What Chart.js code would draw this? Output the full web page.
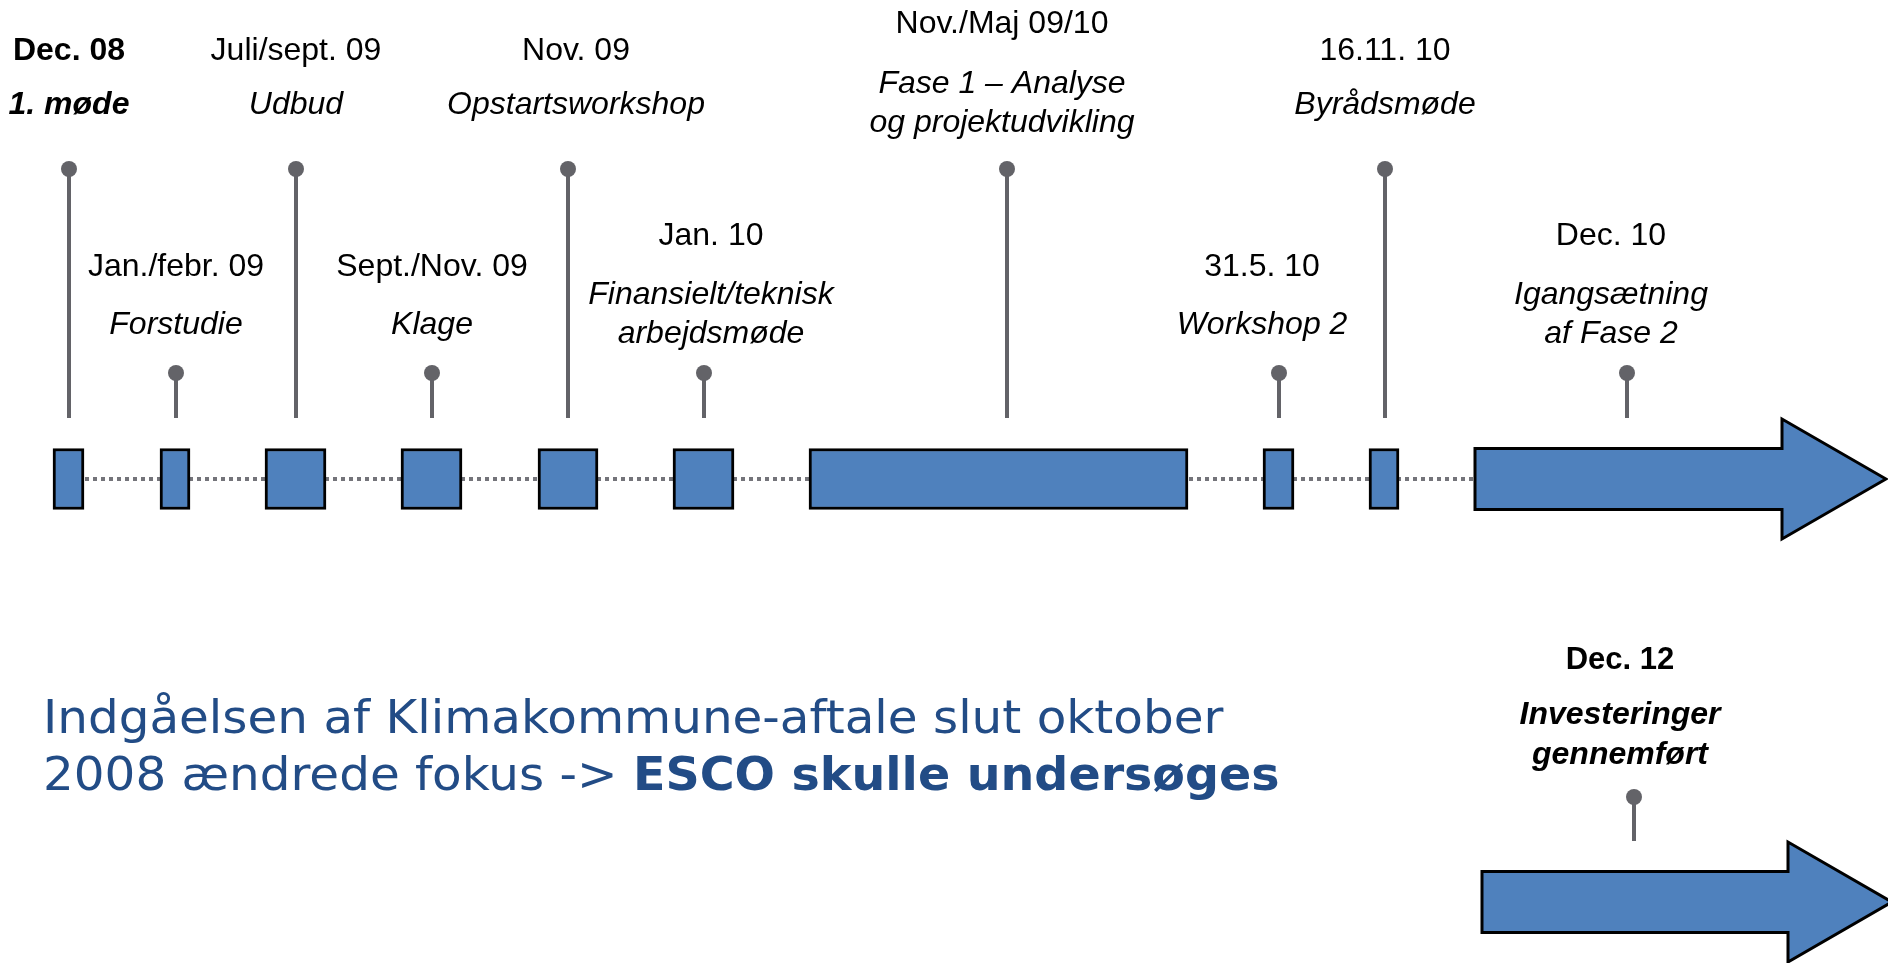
<!DOCTYPE html>
<html>
<head>
<meta charset="utf-8">
<script src="https://cdn.jsdelivr.net/npm/chart.js@4.4.0/dist/chart.umd.min.js"></script>
<style>
  html, body { margin: 0; padding: 0; background: #fff; overflow: hidden; }
  #wrap { width: 1888px; height: 963px; position: relative; }
</style>
</head>
<body>
<div id="wrap"><canvas id="timeline"></canvas></div>
<script>
// --- data: milestones on the main track (x in timeline units) ---
const dates = ['Dec. 08', 'Jan./febr. 09', 'Juli/sept. 09', 'Sept./Nov. 09', 'Nov. 09',
               'Jan. 10', 'Nov./Maj 09/10', '31.5. 10', '16.11. 10', 'Dec. 10'];
const captions = [['1. møde'], ['Forstudie'], ['Udbud'], ['Klage'], ['Opstartsworkshop'],
                  ['Finansielt/teknisk', 'arbejdsmøde'], ['Fase 1 – Analyse', 'og projektudvikling'],
                  ['Workshop 2'], ['Byrådsmøde'], ['Igangsætning', 'af Fase 2']];
const phaseStart = [53, 160, 265, 401, 538, 673, 809, 1263, 1369, 1475];
const phaseEnd   = [84, 190, 326, 462, 598, 734, 1188, 1294, 1399, 1782];
const pinAt      = [69, 176, 296, 432, 568, 704, 1007, 1279, 1385, 1627];
const pinLevel   = ['high', 'low', 'high', 'low', 'high', 'low', 'high', 'low', 'high', 'low'];
const boldDates  = ['Dec. 08'];

// second track
const laterDates    = ['Dec. 12'];
const laterCaptions = [['Investeringer', 'gennemført']];
const laterStart    = [1482];
const laterEnd      = [1788];
const laterPin      = [1634];

// --- layout ---
const TRACK_Y = [479, 902];
const BOX_H = 61;
const HEAD_LEN = 104, HEAD_HALF = 60;
const STEM = { high: 310, low: 106, later: 105 };
const STEM_GAP = 61;               // stem stops this far above track centre
const labelShift = [0, 0, 0, 0, 8, 7, -5, -17, 0, -16];
const laterShift = [-14];
// text offsets above the pin dot: [date, caption lines...]
const TEXT_OFF = {
  high1: [-118, -64], high2: [-145, -85, -46],
  low1: [-106, -48],  low2: [-137, -78, -39],
  later2: [-137, -82, -42]
};
const BLUE = '#4F81BD', GREY = '#636368', DOT = '#74747a', NAVY = '#224C86';

const boxes = phaseStart.map((s, i) => ({ x: [s, phaseEnd[i]], y: TRACK_Y[0] }))
  .concat(laterStart.map((s, i) => ({ x: [s, laterEnd[i]], y: TRACK_Y[1] })));
const arrowIdx = [phaseStart.length - 1, boxes.length - 1];

const pins = pinAt.map((x, i) => ({ x, y: TRACK_Y[0] - STEM[pinLevel[i]] }))
  .concat(laterPin.map(x => ({ x, y: TRACK_Y[1] - STEM.later })));

const timelinePlugin = {
  id: 'timeline',
  beforeDatasetsDraw(chart) {
    const ctx = chart.ctx, xs = chart.scales.x, ys = chart.scales.y;
    ctx.save();
    ctx.strokeStyle = GREY;
    ctx.lineWidth = 4;
    pins.forEach((p, i) => {
      const track = i < pinAt.length ? TRACK_Y[0] : TRACK_Y[1];
      const px = Math.round(xs.getPixelForValue(p.x));
      ctx.beginPath();
      ctx.moveTo(px, ys.getPixelForValue(p.y));
      ctx.lineTo(px, ys.getPixelForValue(track) - STEM_GAP);
      ctx.stroke();
    });
    ctx.restore();
  },
  afterDatasetsDraw(chart) {
    const ctx = chart.ctx, xs = chart.scales.x, ys = chart.scales.y;
    const bars = chart.getDatasetMeta(1).data;
    ctx.save();
    // arrow heads
    arrowIdx.forEach(i => {
      const { x, y, base, height } = bars[i].getProps(['x', 'y', 'base', 'height'], true);
      const h = height / 2;
      ctx.beginPath();
      ctx.moveTo(base, y - h);
      ctx.lineTo(x, y - h);
      ctx.lineTo(x, y - HEAD_HALF);
      ctx.lineTo(x + HEAD_LEN, y);
      ctx.lineTo(x, y + HEAD_HALF);
      ctx.lineTo(x, y + h);
      ctx.lineTo(base, y + h);
      ctx.closePath();
      ctx.fillStyle = BLUE;
      ctx.fill();
      ctx.lineWidth = 3;
      ctx.strokeStyle = '#000';
      ctx.lineJoin = 'miter';
      ctx.stroke();
    });

    // labels
    ctx.fillStyle = '#000';
    ctx.textAlign = 'center';
    ctx.textBaseline = 'middle';
    const drawLabel = (date, lines, px, dotY, key, bold, size) => {
      const off = TEXT_OFF[key];
      ctx.font = (bold ? 'bold ' : '') + size + 'px "Liberation Sans", Arial, sans-serif';
      ctx.fillText(date, px, dotY + off[0]);
      ctx.font = 'italic ' + (bold ? 'bold ' : '') + '32px "Liberation Sans", Arial, sans-serif';
      lines.forEach((t, k) => ctx.fillText(t, px, dotY + off[k + 1]));
    };
    dates.forEach((d, i) => {
      const px = xs.getPixelForValue(pinAt[i]) + labelShift[i];
      const dotY = ys.getPixelForValue(pins[i].y);
      drawLabel(d, captions[i], px, dotY, pinLevel[i] + captions[i].length,
                boldDates.includes(d), 32);
    });
    laterDates.forEach((d, i) => {
      const p = pins[pinAt.length + i];
      drawLabel(d, laterCaptions[i], xs.getPixelForValue(p.x) + laterShift[i],
                ys.getPixelForValue(p.y), 'later2', true, 31);
    });

    // slide note
    ctx.textAlign = 'left';
    ctx.textBaseline = 'alphabetic';
    ctx.fillStyle = NAVY;
    ctx.translate(43, 0);
    ctx.scale(1.03, 1);
    ctx.font = '47px "DejaVu Sans", Verdana, sans-serif';
    ctx.fillText('Indgåelsen af Klimakommune-aftale slut oktober', 0, 733);
    const lead = '2008 ændrede fokus -> ';
    ctx.fillText(lead, 0, 790);
    const w = ctx.measureText(lead).width;
    ctx.translate(w, 0);
    ctx.scale(0.982, 1);
    ctx.font = 'bold 47px "DejaVu Sans", Verdana, sans-serif';
    ctx.fillText('ESCO skulle undersøges', 0, 790);
    ctx.restore();
  }
};

new Chart(document.getElementById('timeline'), {
  data: {
    datasets: [
      {
        type: 'line',
        data: [{ x: phaseStart[0], y: TRACK_Y[0] }, { x: phaseStart[phaseStart.length - 1], y: TRACK_Y[0] }],
        borderColor: DOT,
        borderWidth: 4,
        borderDash: [4, 4],
        pointRadius: 0,
        order: 3
      },
      {
        type: 'bar',
        indexAxis: 'y',
        data: boxes,
        grouped: false,
        barThickness: BOX_H,
        backgroundColor: BLUE,
        borderColor: '#000',
        borderWidth: 3,
        borderSkipped: false,
        order: 2
      },
      {
        type: 'scatter',
        data: pins,
        pointRadius: 8,
        pointBackgroundColor: GREY,
        pointBorderWidth: 0,
        order: 1
      }
    ]
  },
  options: {
    responsive: true,
    maintainAspectRatio: false,
    animation: false,
    layout: { padding: 0, autoPadding: false },
    scales: {
      x: { type: 'linear', min: 0, max: 1888, offset: false, display: false },
      y: { type: 'linear', min: 0, max: 963, reverse: true, offset: false, display: false }
    },
    plugins: { legend: { display: false }, tooltip: { enabled: false } }
  },
  plugins: [timelinePlugin]
});
</script>
</body>
</html>
